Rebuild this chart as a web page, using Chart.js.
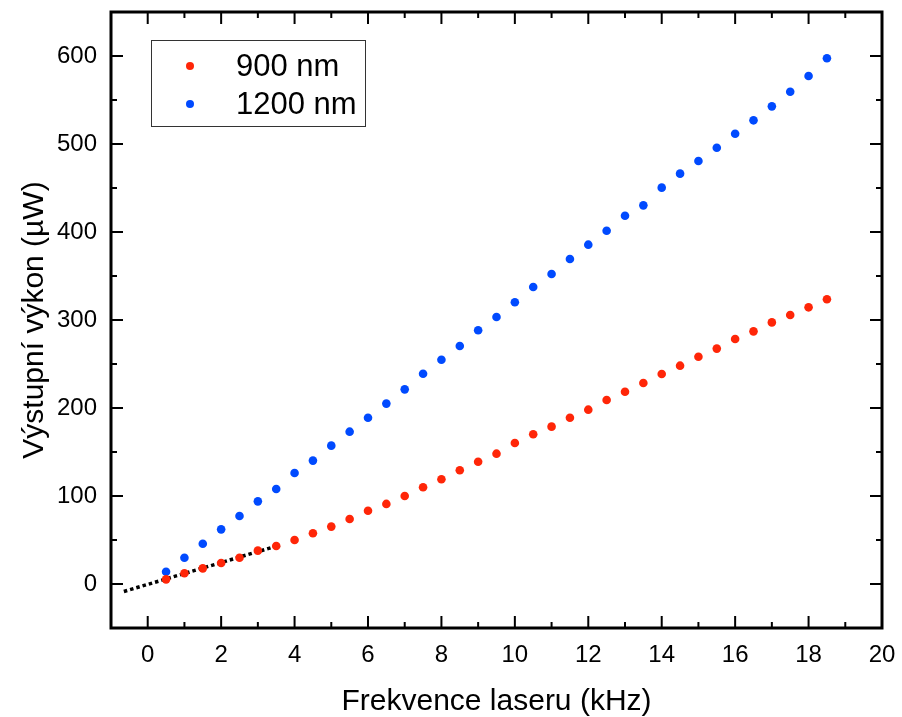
<!DOCTYPE html>
<html>
<head>
<meta charset="utf-8">
<script src="https://cdn.jsdelivr.net/npm/chart.js@4/dist/chart.umd.min.js"></script>
<style>
  body { margin: 0; background: #fff; }
  #wrap { width: 902px; height: 717px; }
</style>
</head>
<body>
<div id="wrap"><canvas id="chart" width="902" height="717"></canvas></div>
<script>
// frequency of the laser (kHz)
const freq = [0.5, 1, 1.5, 2, 2.5, 3, 3.5, 4, 4.5, 5, 5.5, 6, 6.5, 7, 7.5, 8, 8.5, 9, 9.5,
    10, 10.5, 11, 11.5, 12, 12.5, 13, 13.5, 14, 14.5, 15, 15.5, 16, 16.5, 17, 17.5, 18, 18.5];

// output power (uW)
const power900 = [5.3, 12.2, 17.8, 23.9, 29.9, 37.9, 43.2, 50, 57.6, 65.2, 73.9, 83.3, 91,
    100, 109.9, 119, 129.2, 139, 148.1, 160.2, 170.1, 178.8, 189, 198.1, 209.1, 218.5,
    228.4, 238.6, 248.1, 258.3, 267.5, 278.4, 287.1, 297.3, 305.7, 314.4, 323.5];
const power1200 = [14, 29.9, 45.8, 62.1, 77.3, 93.9, 108, 126.1, 140.2, 157.2, 173.1, 189, 205,
    221.2, 239, 254.9, 270.5, 288.3, 303.4, 320.1, 337.5, 352.3, 369.3, 385.6, 401.5, 418.4,
    430.3, 450.4, 466.3, 480.7, 495.8, 511.7, 526.9, 542.8, 559.4, 577.3, 597.4];

// dotted linear fit at low frequency
const fitX = [-0.65, 3.6];
const fitY = [-8.5, 44.2];

const seriesLabels = ["900 nm", "1200 nm"];

const xTicks = [0, 2, 4, 6, 8, 10, 12, 14, 16, 18, 20];
const xMinor = [1, 3, 5, 7, 9, 11, 13, 15, 17, 19];
const yTicks = [0, 100, 200, 300, 400, 500, 600];
const yMinor = [50, 150, 250, 350, 450, 550];

const red = "rgb(255,38,8)";
const blue = "rgb(0,74,255)";

Chart.defaults.font.family = "'Liberation Sans', Arial, Helvetica, sans-serif";
Chart.defaults.color = "#000";

const toPoints = (xs, ys) => xs.map((x, i) => ({ x: x, y: ys[i] }));

// frame with inward major/minor ticks on all four sides
const framePlugin = {
    id: 'frame',
    afterDatasetsDraw(chart) {
        const { ctx, chartArea: a, scales: { x, y } } = chart;
        ctx.save();
        ctx.strokeStyle = "#000";
        ctx.lineWidth = 2;
        ctx.beginPath();
        const tick = (v, len, horiz) => {
            if (horiz) {
                const px = x.getPixelForValue(v);
                ctx.moveTo(px, a.bottom); ctx.lineTo(px, a.bottom - len);
                ctx.moveTo(px, a.top); ctx.lineTo(px, a.top + len);
            } else {
                const py = y.getPixelForValue(v);
                ctx.moveTo(a.left, py); ctx.lineTo(a.left + len, py);
                ctx.moveTo(a.right, py); ctx.lineTo(a.right - len, py);
            }
        };
        xTicks.forEach(v => tick(v, 12, true));
        xMinor.forEach(v => tick(v, 6, true));
        yTicks.forEach(v => tick(v, 12, false));
        yMinor.forEach(v => tick(v, 6, false));
        ctx.stroke();
        ctx.lineWidth = 3;
        ctx.strokeRect(a.left, a.top, a.right - a.left, a.bottom - a.top);
        ctx.restore();
    }
};

// boxed legend in the upper left corner
const legendPlugin = {
    id: 'boxLegend',
    afterDraw(chart) {
        const { ctx, chartArea: a } = chart;
        const bx = a.left + 40, by = a.top + 28;
        ctx.save();
        ctx.fillStyle = "#fff";
        ctx.fillRect(bx, by, 214, 86);
        ctx.strokeStyle = "#333";
        ctx.lineWidth = 1;
        ctx.strokeRect(bx + 0.5, by + 0.5, 214, 86);
        ctx.font = "31px 'Liberation Sans', Arial, sans-serif";
        ctx.textBaseline = "middle";
        [red, blue].forEach((c, i) => {
            const cy = by + 26 + i * 38;
            ctx.fillStyle = c;
            ctx.beginPath();
            ctx.arc(bx + 39, cy, 4, 0, Math.PI * 2);
            ctx.fill();
            ctx.fillStyle = "#000";
            ctx.fillText(seriesLabels[i], bx + 85, cy + 1);
        });
        ctx.restore();
    }
};

new Chart(document.getElementById('chart'), {
    type: 'scatter',
    data: {
        datasets: [
            {
                label: seriesLabels[0],
                data: toPoints(freq, power900),
                backgroundColor: red,
                borderWidth: 0,
                pointRadius: 4.3,
            },
            {
                label: seriesLabels[1],
                data: toPoints(freq, power1200),
                backgroundColor: blue,
                borderWidth: 0,
                pointRadius: 4.3,
            },
            {
                label: 'fit',
                data: toPoints(fitX, fitY),
                showLine: true,
                borderColor: "#000",
                borderWidth: 3.5,
                borderDash: [3.5, 3],
                pointRadius: 0,
            },
        ]
    },
    options: {
        responsive: false,
        animation: false,
        layout: { padding: { left: 0, right: 20, top: 12, bottom: 0 } },
        plugins: {
            legend: { display: false },
            tooltip: { enabled: false },
        },
        scales: {
            x: {
                type: 'linear',
                min: -1,
                max: 20,
                afterBuildTicks: s => { s.ticks = xTicks.map(v => ({ value: v })); },
                afterFit: s => { s.height = 89; s.paddingLeft = 0; s.paddingRight = 0; },
                grid: { display: false, drawTicks: false },
                border: { display: false },
                ticks: { font: { size: 24 }, padding: 13, maxRotation: 0 },
                title: {
                    display: true,
                    text: 'Frekvence laseru (kHz)',
                    font: { size: 30, lineHeight: 1.0 },
                    padding: { top: 0, bottom: 0 },
                },
            },
            y: {
                type: 'linear',
                min: -50,
                max: 650,
                afterBuildTicks: s => { s.ticks = yTicks.map(v => ({ value: v })); },
                afterFit: s => { s.width = 111; s.paddingTop = 0; s.paddingBottom = 0; },
                grid: { display: false, drawTicks: false },
                border: { display: false },
                ticks: { font: { size: 24 }, padding: 14 },
                title: {
                    display: true,
                    text: 'Výstupní výkon (µW)',
                    font: { size: 30, lineHeight: 1.0 },
                    padding: { top: 20, bottom: 0 },
                },
            },
        },
    },
    plugins: [framePlugin, legendPlugin],
});
</script>
</body>
</html>
